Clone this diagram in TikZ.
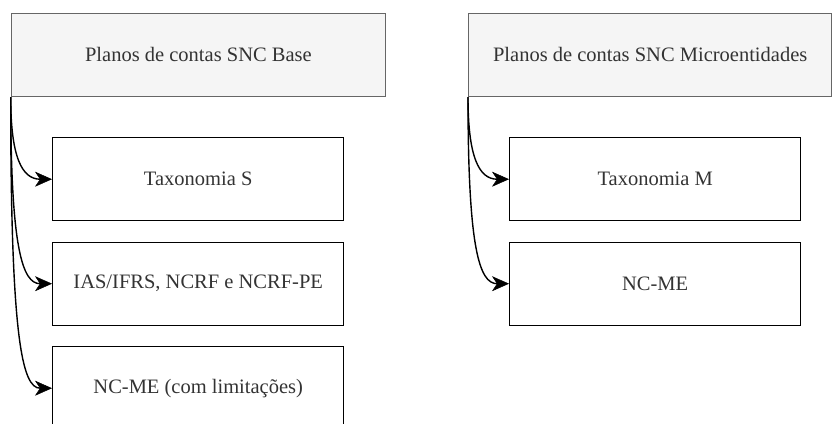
\documentclass[tikz,border=0pt]{standalone}
\usepackage{fontspec}
\setmainfont{Liberation Serif}
\usetikzlibrary{arrows.meta}
\definecolor{hdrfill}{HTML}{F5F5F5}
\definecolor{hdrline}{HTML}{666666}
\definecolor{txtgray}{HTML}{333333}
\begin{document}
\begin{tikzpicture}[x=1pt,y=-1pt,
  hdr/.style={draw=hdrline,fill=hdrfill,line width=1.4pt,anchor=north west,inner sep=0pt,font=\fontsize{20.5}{24}\selectfont,text=txtgray},
  child/.style={draw=black,line width=1.4pt,anchor=north west,minimum width=291pt,minimum height=83pt,inner sep=0pt,font=\fontsize{20.5}{24}\selectfont,text=txtgray},
  conn/.style={line width=1.4pt,-{Stealth[length=17pt,width=15pt,inset=5pt,fill=black,line width=0.5pt]}}]
\useasboundingbox (0,0) rectangle (832,423);
\node[hdr,minimum width=374pt,minimum height=83pt] (hL) at (10.7,12.7) {Planos de contas SNC Base};
\node[hdr,minimum width=363pt,minimum height=83pt] (hR) at (468,12.7) {Planos de contas SNC Microentidades};
\node[child] (c1) at (52,137) {Taxonomia S};
\node[child] (c2) at (52,241.5) {IAS/IFRS, NCRF e NCRF-PE};
\node[child] (c3) at (52,346) {NC-ME (com limitações)};
\node[child] (d1) at (509,137) {Taxonomia M};
\node[child] (d2) at (509,241.5) {NC-ME};
\draw[conn] (hL.south west) .. controls ([yshift=-60pt]hL.south west) and ([xshift=-30pt]c1.west) .. (c1.west);
\draw[conn] (hL.south west) .. controls ([yshift=-150pt]hL.south west) and ([xshift=-30pt]c2.west) .. (c2.west);
\draw[conn] (hL.south west) .. controls ([yshift=-240pt]hL.south west) and ([xshift=-30pt]c3.west) .. (c3.west);
\draw[conn] (hR.south west) .. controls ([yshift=-60pt]hR.south west) and ([xshift=-30pt]d1.west) .. (d1.west);
\draw[conn] (hR.south west) .. controls ([yshift=-150pt]hR.south west) and ([xshift=-30pt]d2.west) .. (d2.west);
\end{tikzpicture}
\end{document}
